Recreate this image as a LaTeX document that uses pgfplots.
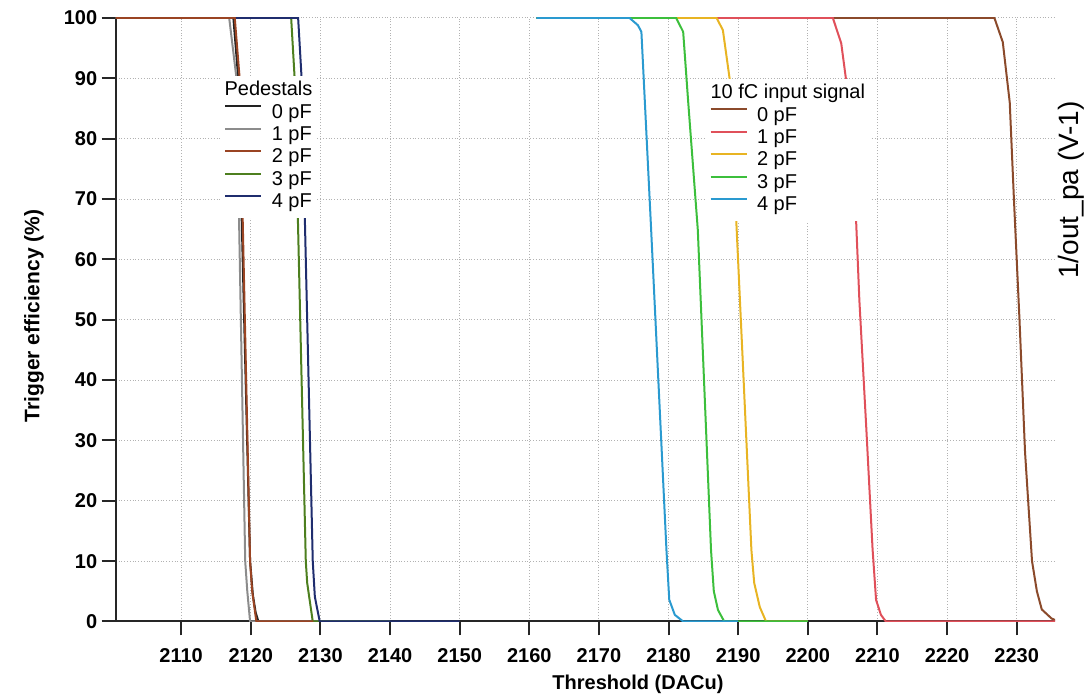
\documentclass[border=0pt]{standalone}
\usepackage{fontspec}
\setmainfont{Liberation Sans}
\usepackage{pgfplots}
\pgfplotsset{compat=1.18}
\definecolor{pzero}{HTML}{222222}
\definecolor{pone}{HTML}{8C8C8C}
\definecolor{ptwo}{HTML}{9A4423}
\definecolor{pthree}{HTML}{4D7F1F}
\definecolor{pfour}{HTML}{1F2D6E}
\definecolor{szero}{HTML}{8B4A2B}
\definecolor{sone}{HTML}{E0505A}
\definecolor{stwo}{HTML}{E8B423}
\definecolor{sthree}{HTML}{3CBF3C}
\definecolor{sfour}{HTML}{2A9AD0}
\pgfplotsset{
  common/.style={
    at={(57.85pt,36.25pt)}, anchor=south west,
    scale only axis, width=469.65pt, height=301.75pt,
    xmin=2100.6, xmax=2235.5, ymin=0, ymax=100,
    set layers=standard,
    legend image code/.code={\draw[#1] (0pt,3.6pt) -- (18pt,3.6pt);},
    legend cell align=left,
    legend style={draw=none, fill=white, inner xsep=2pt, inner ysep=2pt,
      font=\fontsize{10}{12}\selectfont, row sep=0pt,
      nodes={inner sep=0.3pt, text height=7.6pt, text depth=3pt},
      /tikz/every odd column/.style={column sep=4.4pt}},
  },
  cv/.style={line width=1pt},
}
\begin{document}
\begin{tikzpicture}
\begin{axis}[common,
  axis x line*=bottom, axis y line*=left,
  axis line style={line width=1pt, black!85},
  tick align=outside, major tick length=7pt,
  tick style={line width=1pt, black!85},
  xtick={2110,2120,...,2230}, ytick={0,10,...,100},
  grid=major, grid style={densely dotted, gray!60, line width=0.5pt},
  /pgf/number format/assume math mode=true,
  /pgf/number format/1000 sep={},
  ticklabel style={font=\fontsize{10}{12}\selectfont\bfseries},
  xticklabel style={yshift=-3pt},
  yticklabel style={xshift=1.3pt},
  legend style={at={(axis cs:2115.58,90.47)}, anchor=north west},
]
\addlegendimage{empty legend}
\addlegendentry{\hspace{-23.6pt}Pedestals}
\addplot[cv, pzero] coordinates {(2100,100) (2117.5,100) (2118.2,90) (2119.9,10) (2120.3,4.4) (2120.7,1.5) (2121.1,0) (2140,0)};
\addlegendentry{0 pF}
\addplot[cv, pone] coordinates {(2100,100) (2116.9,100) (2117.95,90) (2119.2,10) (2119.5,5) (2119.9,0) (2140,0)};
\addlegendentry{1 pF}
\addplot[cv, pthree, forget plot] coordinates {(2100,100) (2125.8,100) (2126.3,90) (2127.9,10) (2128.1,6.4) (2128.9,0) (2140,0)};
\addplot[cv, pfour, forget plot] coordinates {(2100,100) (2126.8,100) (2127.3,90) (2128.9,10) (2129.2,4.1) (2129.9,0) (2150,0)};
\addplot[cv, ptwo] coordinates {(2100,100) (2117.7,100) (2118.4,90) (2119.9,10) (2120.2,5) (2120.8,0) (2129,0)};
\addlegendentry{2 pF}
\addlegendimage{cv, pthree}
\addlegendentry{3 pF}
\addlegendimage{cv, pfour}
\addlegendentry{4 pF}
\end{axis}
\begin{axis}[common, hide axis,
  legend style={at={(axis cs:2185.27,89.97)}, anchor=north west},
]
\addlegendimage{empty legend}
\addlegendentry{\hspace{-23.25pt}10 fC input signal}
\addplot[cv, szero] coordinates {(2161,100) (2226.8,100) (2228.0,96) (2229.0,86) (2229.6,70) (2230.4,50) (2231.2,28) (2232.2,10) (2232.9,5) (2233.6,2) (2235.0,0.5) (2236,0)};
\addlegendentry{0 pF}
\addplot[cv, sone] coordinates {(2161,100) (2203.6,100) (2204.8,95.8) (2205.5,89.7) (2206.9,67.4) (2207.4,53.3) (2208.4,32) (2209.3,12) (2209.8,3.6) (2210.5,1.1) (2211.2,0) (2236,0)};
\addlegendentry{1 pF}
\addplot[cv, stwo] coordinates {(2161,100) (2186.9,100) (2187.8,98) (2188.8,89.7) (2189.7,67) (2190.7,42) (2191.9,11.8) (2192.3,6.4) (2193.1,2.4) (2194.0,0) (2200,0)};
\addlegendentry{2 pF}
\addplot[cv, sthree] coordinates {(2161,100) (2181.1,100) (2182.1,97.7) (2182.8,86.4) (2184.2,64.9) (2186.1,11.8) (2186.5,5) (2187.1,1.9) (2188.0,0) (2200,0)};
\addlegendentry{3 pF}
\addplot[cv, sfour] coordinates {(2161,100) (2174.4,100) (2175.6,98.8) (2176.1,97.7) (2177.5,64.9) (2179.7,11.8) (2180.1,3.6) (2180.9,1.1) (2182.1,0) (2190,0)};
\addlegendentry{4 pF}
\end{axis}
\node[font=\fontsize{10}{12}\selectfont\bfseries] at (319pt,5pt) {Threshold (DACu)};
\node[rotate=90, font=\fontsize{10.5}{12}\selectfont\bfseries] at (17pt,189pt) {Trigger efficiency (\%)};
\node[rotate=90, font=\fontsize{14}{16}\selectfont] at (535.5pt,252pt) {1/out\_pa (V-1)};
\pgfresetboundingbox
\path (0,0) rectangle (544pt,347pt);
\end{tikzpicture}
\end{document}
